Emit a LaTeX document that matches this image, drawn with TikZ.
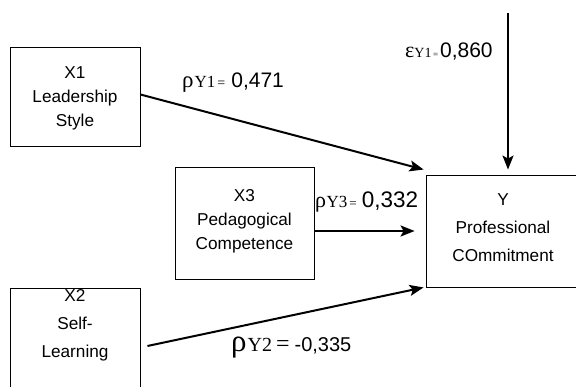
\documentclass[tikz,border=0pt]{standalone}
\usepackage{fontspec}
\setmainfont{Liberation Sans}
\newfontfamily\tms{Liberation Serif}
\usetikzlibrary{arrows.meta,calc}
\newcommand\myfs[1]{\fontsize{#1}{#1}\selectfont}
\begin{document}
\begin{tikzpicture}[x=1pt,y=-1pt,
  box/.style={draw,line width=0.9pt,inner sep=0pt},
  boxtext/.style={align=center,inner sep=0pt,font=\fontsize{17.2}{24}\selectfont},
  arr/.style={line width=2pt,-{Stealth[length=14pt,width=11pt,inset=3pt]}},
  lab/.style={anchor=base west,inner sep=0pt}]
\useasboundingbox (0,0) rectangle (576,387);
\clip (0,0) rectangle (576,387);
% boxes
\node[box,minimum width=130pt,minimum height=99pt] (x1) at (75,96.5) {};
\node[boxtext] (x1t) at (75,98) {X1\\Leadership\\Style};
\node[box,minimum width=139pt,minimum height=112pt] (x3) at (244.5,223) {};
\node[boxtext] (x3t) at (244.5,221) {X3\\Pedagogical\\Competence};
\node[box,minimum width=130pt,minimum height=116pt] (x2) at (75,346) {};
\node[boxtext,font=\fontsize{17.2}{28}\selectfont] (x2t) at (75,325) {X2\\Self-\\Learning};
\node[box,minimum width=156pt,minimum height=112pt] (y) at (504,231) {};
\node[boxtext,font=\fontsize{17.2}{28}\selectfont] (yt) at (503,228) {Y\\Professional\\COmmitment};
% arrows
\coordinate (e) at (508,13);
\draw[arr] ($(x1.east)+(0,-2)$) -- ($(y.north west)+(-2,-5)$);
\draw[arr] (x3.east |- y.west) -- ($(y.west)+(-11,0)$);
\draw[arr] ($(x2.east)+(7,0)$) -- ($(y.south west)+(-2,0)$);
\draw[arr] (e) -- ($(e |- y.north)+(0,-5)$);
% labels
\node[lab] (l1) at (182,88) {{\tms\myfs{23}ρ}\hspace{1pt}{\tms\myfs{17}Y1}\hspace{2pt}{\tms\myfs{14}=}\hspace{6pt}{\myfs{21}0,471}};
\node[lab] (l3) at (315,208) {{\tms\myfs{22}ρ}\hspace{0.5pt}{\tms\myfs{17}Y3}\hspace{2pt}{\tms\myfs{13}=}\hspace{5pt}{\myfs{22.5}0,332}};
\node[lab] (l2) at (231,352) {{\tms\myfs{31}ρ}\hspace{1pt}{\tms\myfs{20}Y2}\hspace{4pt}{\tms\myfs{24}=}\hspace{5pt}{\myfs{20}-0,335}};
\node[lab] (le) at (405,58) {{\tms\myfs{22}ε}{\tms\myfs{14}Y1}\hspace{1.5pt}{\tms\myfs{9}=}\hspace{2pt}{\myfs{21}0,860}};
\end{tikzpicture}
\end{document}
